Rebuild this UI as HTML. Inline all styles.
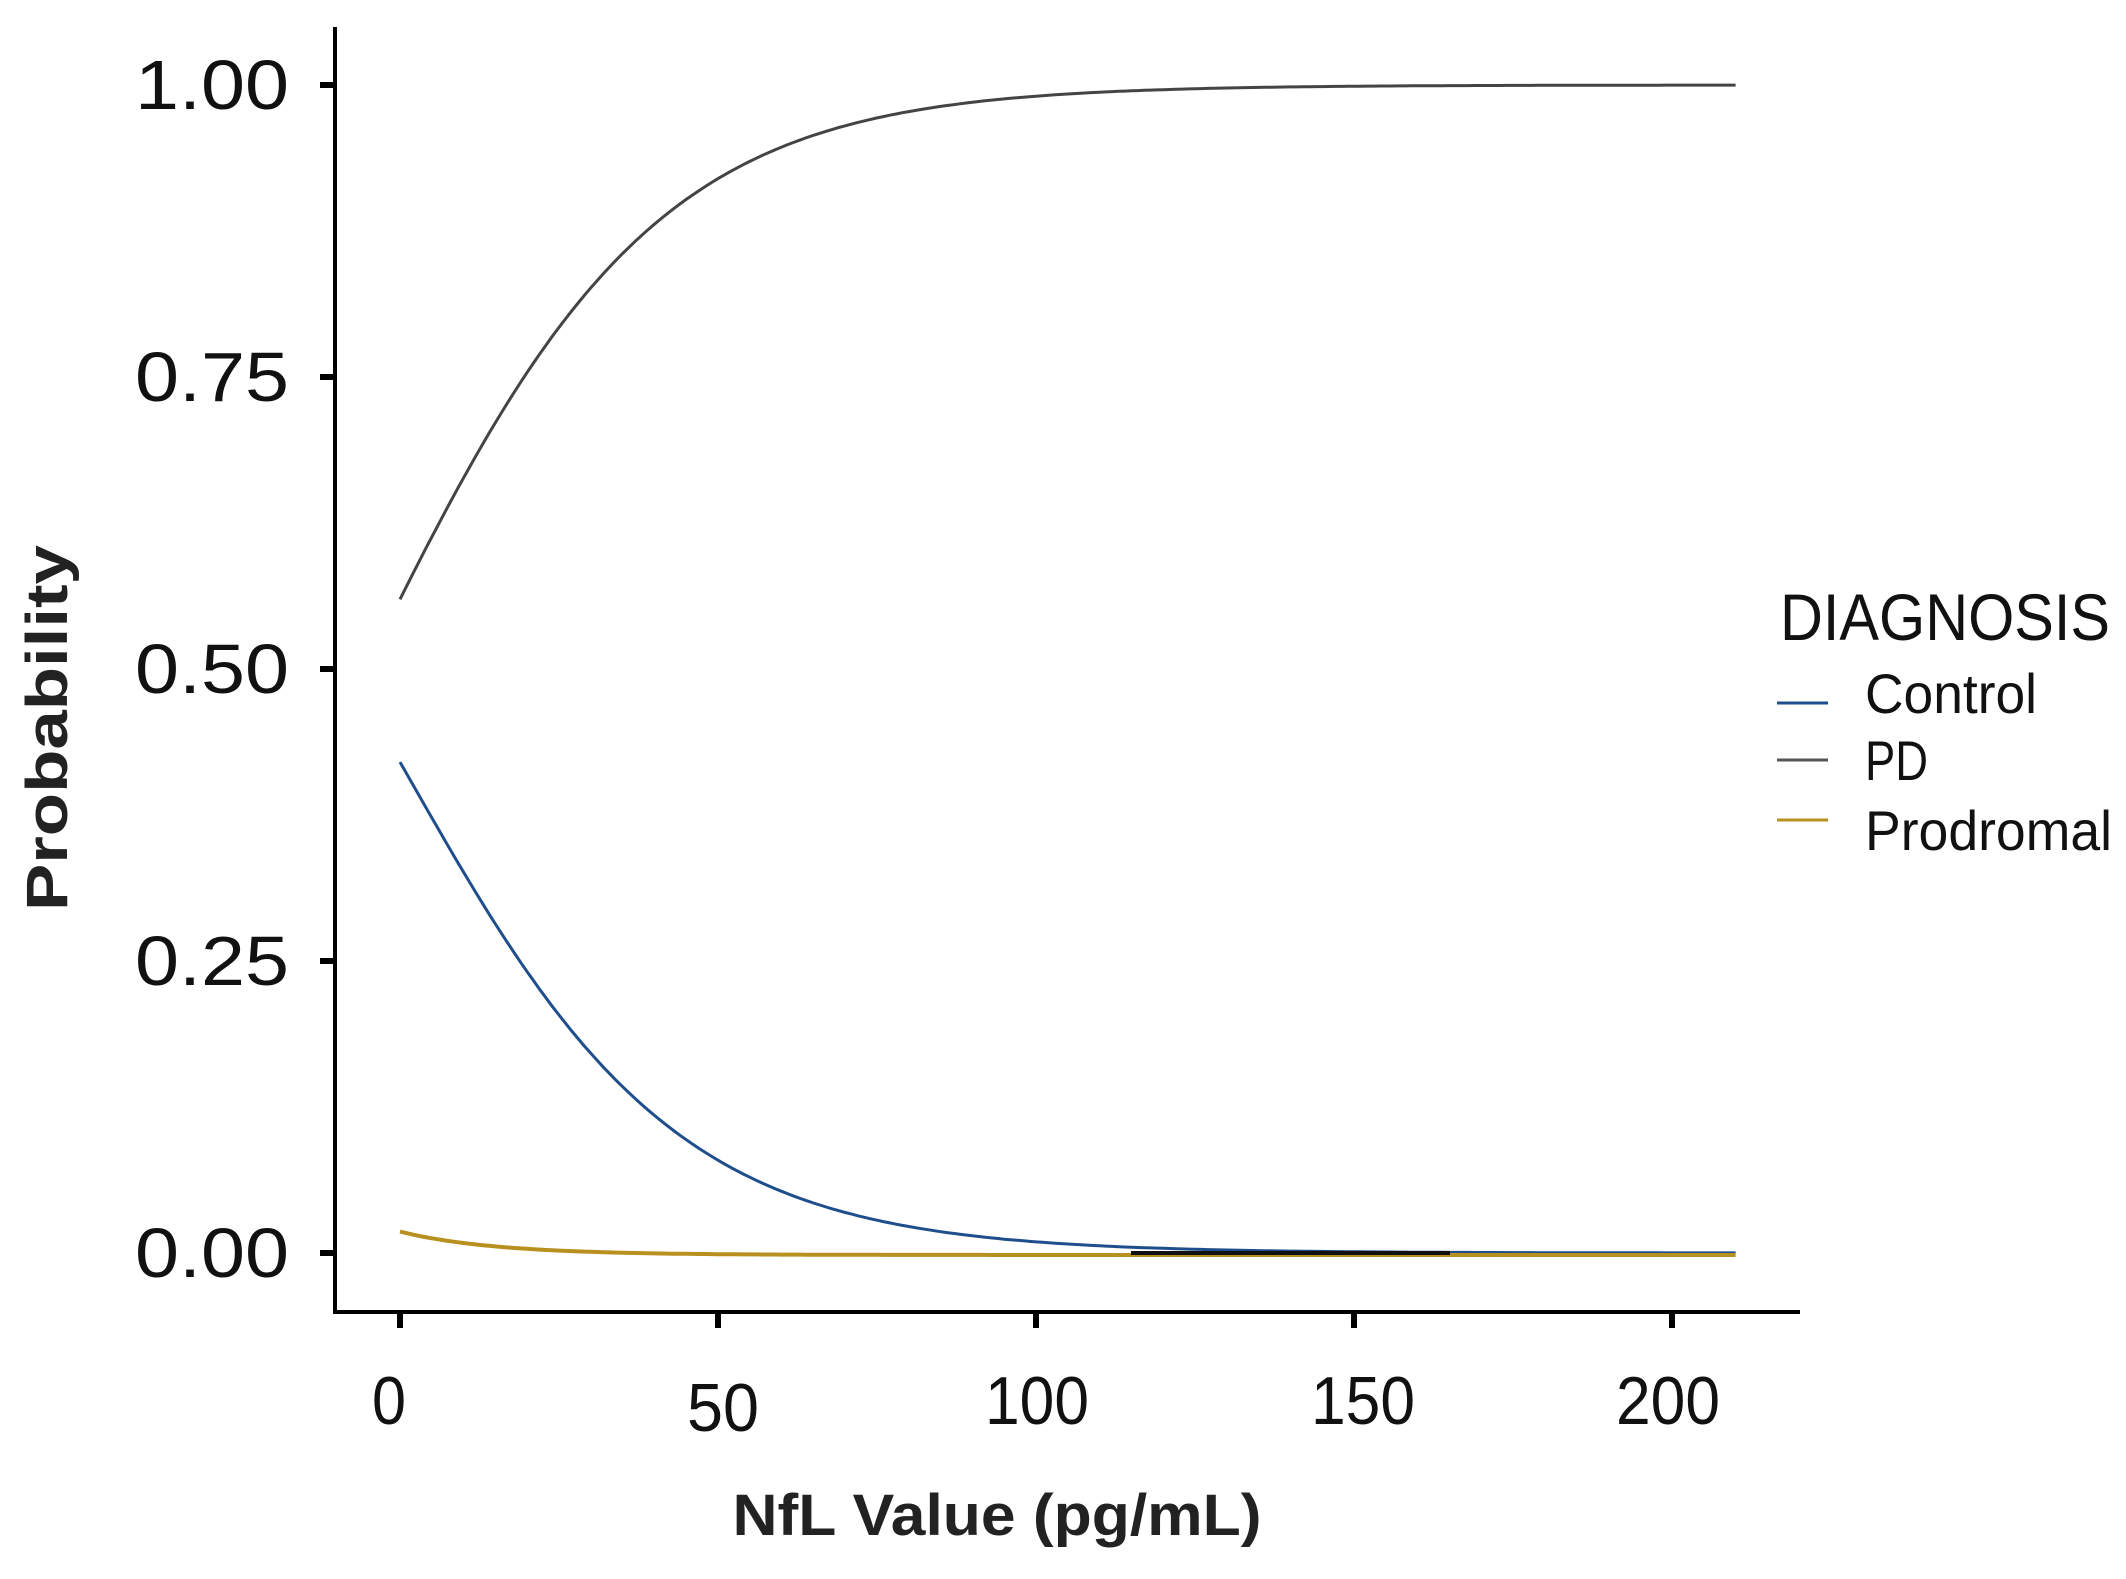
<!DOCTYPE html>
<html><head><meta charset="utf-8"><style>html,body{margin:0;padding:0;background:#fff}</style></head>
<body>
<svg id="s" width="2126" height="1574" xmlns="http://www.w3.org/2000/svg" font-family="Liberation Sans, sans-serif">
<rect width="2126" height="1574" fill="#fff"/>
<g stroke="#000" stroke-width="4" fill="none">
<path d="M335 27 V1312 H1800"/>
</g>
<g stroke="#000" stroke-width="6" fill="none">
<path d="M320 85 H335 M320 377 H335 M320 669 H335 M320 961 H335 M320 1253 H335"/>
<path d="M400 1312 V1328 M718 1312 V1328 M1036 1312 V1328 M1354 1312 V1328 M1672 1312 V1328"/>
</g>
<g font-size="70" fill="#111" text-anchor="end">
<text x="289" y="109" textLength="154" lengthAdjust="spacingAndGlyphs">1.00</text>
<text x="289" y="401" textLength="154" lengthAdjust="spacingAndGlyphs">0.75</text>
<text x="289" y="693" textLength="154" lengthAdjust="spacingAndGlyphs">0.50</text>
<text x="289" y="985" textLength="154" lengthAdjust="spacingAndGlyphs">0.25</text>
<text x="289" y="1277" textLength="154" lengthAdjust="spacingAndGlyphs">0.00</text>
</g>
<g font-size="68" fill="#111" text-anchor="middle">
<text x="389" y="1424" textLength="34" lengthAdjust="spacingAndGlyphs">0</text>
<text x="723" y="1431" textLength="72" lengthAdjust="spacingAndGlyphs">50</text>
<text x="1037" y="1424" textLength="104" lengthAdjust="spacingAndGlyphs">100</text>
<text x="1363" y="1424" textLength="104" lengthAdjust="spacingAndGlyphs">150</text>
<text x="1668" y="1424" textLength="104" lengthAdjust="spacingAndGlyphs">200</text>
</g>
<text x="997" y="1535" font-size="58" font-weight="bold" fill="#222" text-anchor="middle" textLength="529" lengthAdjust="spacingAndGlyphs">NfL Value (pg/mL)</text>
<text transform="translate(67,728) rotate(-90)" font-size="58" font-weight="bold" fill="#222" text-anchor="middle" textLength="366" lengthAdjust="spacingAndGlyphs">Probability</text>
<text x="1780" y="640" font-size="66" fill="#111" textLength="330" lengthAdjust="spacingAndGlyphs">DIAGNOSIS</text>
<g font-size="56" fill="#111">
<text x="1865" y="713" textLength="172" lengthAdjust="spacingAndGlyphs">Control</text>
<text x="1865" y="780" textLength="63" lengthAdjust="spacingAndGlyphs">PD</text>
<text x="1865" y="850" textLength="247" lengthAdjust="spacingAndGlyphs">Prodromal</text>
</g>
<g stroke-width="3">
<path d="M1777 703 H1828" stroke="#1f4e8c"/>
<path d="M1777 760 H1828" stroke="#555"/>
<path d="M1777 820 H1828" stroke="#b8901f"/>
</g>
<path id="pd" fill="none" stroke="#444" stroke-width="3"/>
<path id="ct" fill="none" stroke="#1f4e8c" stroke-width="3"/>
<path id="pr" fill="none" stroke="#b8901f" stroke-width="4"/>
<path d="M1131 1253 H1450" stroke="#111" stroke-width="4"/>
</svg>
<script>
function X(v){return 400+v*6.36}function Y(p){return 1253-p*1168}
var a="",b="",c="";
for(var x=0;x<=210;x+=1){var l=0.24+0.044*x;var pd=1/(1+Math.exp(-l));var pr=0.02*Math.exp(-x/15);var ct=Math.max(0,1-pd-pr);
var s=x?"L":"M";a+=s+X(x).toFixed(1)+" "+Y(pd).toFixed(1);b+=s+X(x).toFixed(1)+" "+Y(ct).toFixed(1);c+=s+X(x).toFixed(1)+" "+(Y(pr)+2).toFixed(1);}
document.getElementById("pd").setAttribute("d",a);
document.getElementById("ct").setAttribute("d",b);
document.getElementById("pr").setAttribute("d",c);
</script>
</body></html>
